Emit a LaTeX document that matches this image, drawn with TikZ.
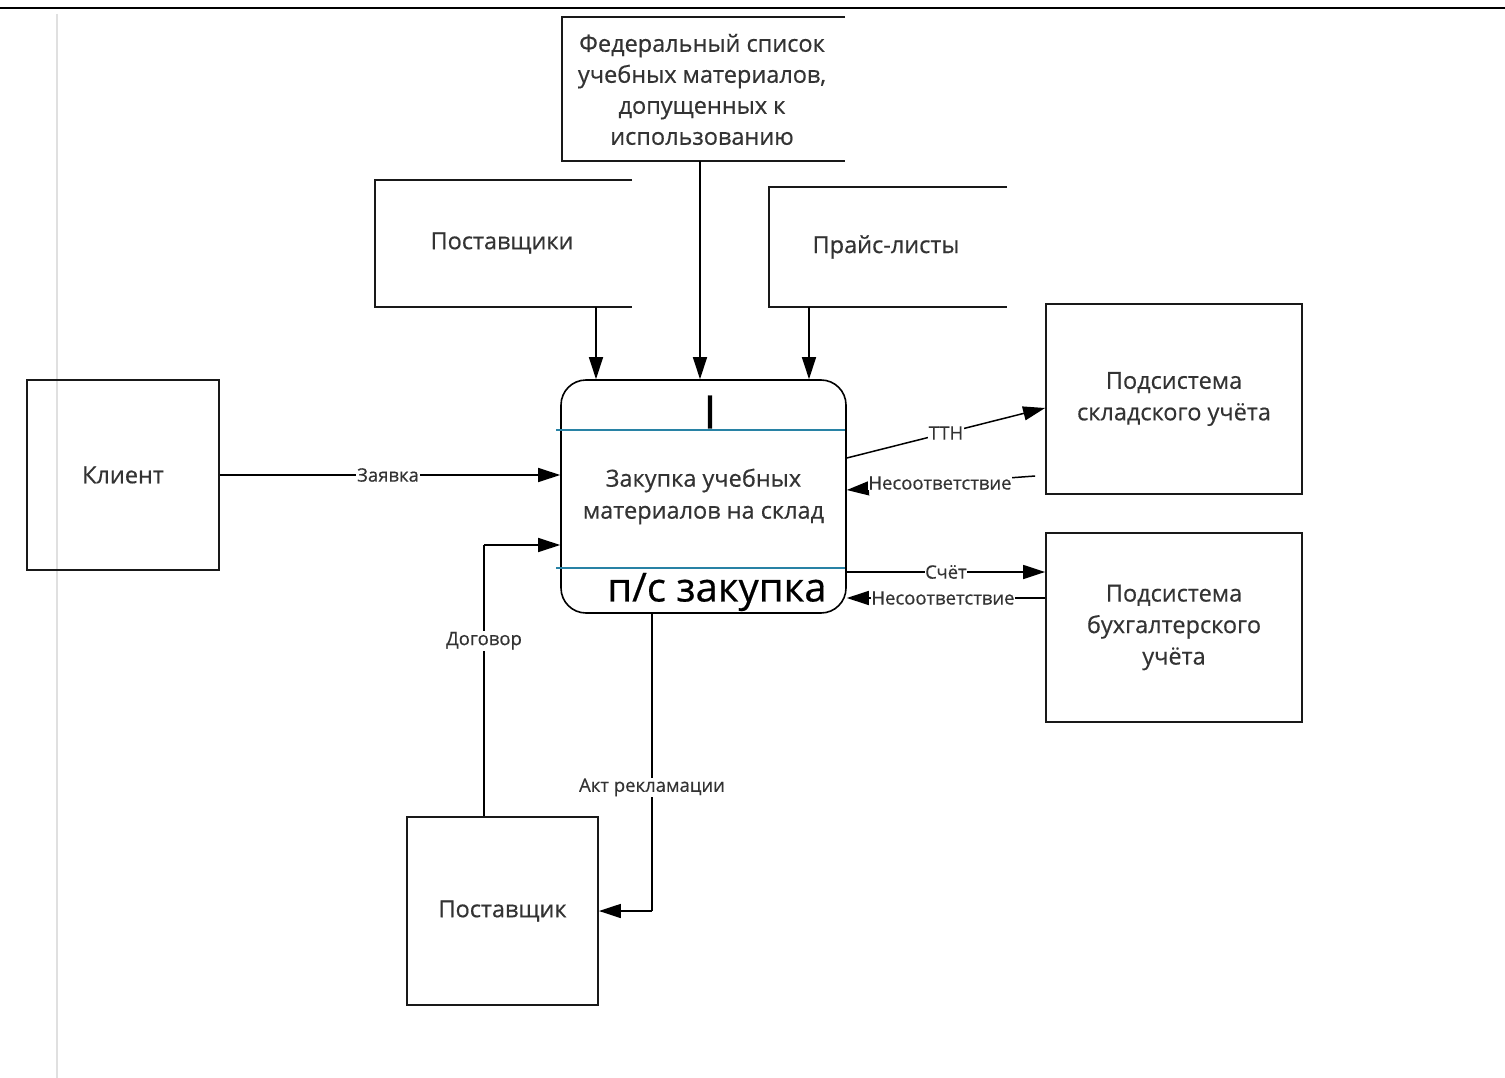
\documentclass[tikz,border=0pt]{standalone}
\usepackage{fontspec}
\setmainfont{Open Sans}
\newfontfamily\tf{Open Sans}[FakeBold=0.5]
\usetikzlibrary{arrows.meta,calc}
\begin{document}
\begin{tikzpicture}[x=1pt,y=-1pt,
  boxline/.style={line width=1.8pt,black!90},
  ebox/.style={draw,boxline,inner sep=0pt,align=center,text=black!80,font=\tf\fontsize{23.5}{31.5}\selectfont},
  tbox/.style={inner sep=0pt,align=center,text=black!80,font=\tf\fontsize{23.5}{31}\selectfont},
  arr/.style={line width=1.5pt,-{Triangle[length=22pt,width=14pt]}},
  lbl/.style={fill=white,inner sep=1pt,text=black!80,font=\tf\fontsize{18.5}{20}\selectfont},
  bluel/.style={line width=1.8pt,draw={rgb,255:red,40;green,130;blue,165}},
  big/.style={inner sep=0pt,font=\tf\fontsize{40}{44}\selectfont,text=black}]
\useasboundingbox (0,0) rectangle (1505,1078);
\fill[white] (0,0) rectangle (1505,1078);
% frame lines
\draw[line width=2.5pt] (0,8) -- (1505,8);
\draw[black!12,line width=2pt] (57,14) -- (57,1078);

% open boxes (controls)
\node[tbox,minimum width=283,minimum height=144] (fed) at (703.5,89) {};
\node[tbox] at (702,89.5)
  {Федеральный список\\учебных материалов,\\допущенных к\\использованию};
\draw[boxline] (fed.north east) -- (fed.north west) -- (fed.south west) -- (fed.south east);
\node[tbox,minimum width=257,minimum height=127] (postav) at (503.5,243.5) {};
\node[tbox] at (502,243) {Поставщики};
\draw[boxline] (postav.north east) -- (postav.north west) -- (postav.south west) -- (postav.south east);
\node[tbox,minimum width=238,minimum height=120] (price) at (888,247) {};
\node[tbox] at (886,247) {Прайс-листы};
\draw[boxline] (price.north east) -- (price.north west) -- (price.south west) -- (price.south east);

% main process
\node[draw,line width=1.6pt,rounded corners=25pt,minimum width=285,minimum height=233,
  inner sep=0pt,align=center,text=black!80,font=\tf\fontsize{23.5}{32}\selectfont] (main) at (703.5,496.5)
  {Закупка учебных\\материалов на склад};
\draw[bluel] ([xshift=-4pt,yshift=-51pt]main.north west) -- ([xshift=-2pt,yshift=-51pt]main.north east);
\draw[bluel] ([xshift=-4pt,yshift=46pt]main.south west) -- ([xshift=-2pt,yshift=46pt]main.south east);
\node[big,font=\tf\fontsize{46}{48}\selectfont] (inum) at (710,412) {I};
\node[big] (ps) at (717,592) {п/с закупка};

% external boxes
\node[ebox,minimum width=192,minimum height=190] (client) at (123,475) {Клиент};
\node[ebox,minimum width=191,minimum height=188] (sup) at (502.5,911) {Поставщик};
\node[ebox,minimum width=256,minimum height=190] (sklad) at (1174,399) {Подсистема\\складского учёта};
\node[ebox,minimum width=256,minimum height=189] (buh) at (1174,627.5) {Подсистема\\бухгалтерского\\учёта};

% control arrows
\coordinate (a1) at ([xshift=92.5pt]postav.south);
\draw[arr] (a1) -- (a1 |- main.north);
\coordinate (a2) at ([xshift=-3.5pt]fed.south);
\draw[arr] (a2) -- (a2 |- main.north);
\coordinate (a3) at ([xshift=-79pt]price.south);
\draw[arr] (a3) -- (a3 |- main.north);

% inputs
\draw[arr] (client.east) -- node[lbl,xshift=-2pt]{Заявка} (client.east -| main.west);
\coordinate (d1) at ([xshift=-18.5pt]sup.north);
\coordinate (d2) at ([yshift=-48.5pt]main.west);
\draw[line width=1.5pt] (d1) -- node[lbl,pos=0.647]{Договор} (d1 |- d2);
\draw[arr] (d1 |- d2) -- (d2);

% output to supplier
\coordinate (r1) at ([xshift=-51.5pt]main.south);
\draw[line width=1.5pt] (r1) -- node[lbl,pos=0.584]{Акт рекламации} (r1 |- sup.east);
\draw[arr] (r1 |- sup.east) -- (sup.east);

% warehouse
\coordinate (t1) at ([yshift=38.5pt]main.east);
\coordinate (t2) at ([yshift=-9pt]sklad.west);
\draw[arr] (t1) -- node[lbl,inner sep=0.5pt]{ТТН} (t2);
\coordinate (n1) at ([xshift=-10pt,yshift=-77pt]sklad.west);
\coordinate (n1e) at ([yshift=6.5pt]main.east);
\draw[arr] (n1) -- node[lbl,inner sep=0.5pt,xshift=-1pt]{Несоответствие} (n1e);

% accounting
\coordinate (s1) at ([yshift=-75.5pt]main.east);
\draw[arr] (s1) -- node[lbl,inner sep=0.5pt]{Счёт} (s1 -| buh.west);
\coordinate (n2) at ([yshift=29.5pt]buh.west);
\draw[arr] (n2) -- node[lbl,inner sep=0.5pt,xshift=-3pt]{Несоответствие} (n2 -| main.east);
\end{tikzpicture}
\end{document}
